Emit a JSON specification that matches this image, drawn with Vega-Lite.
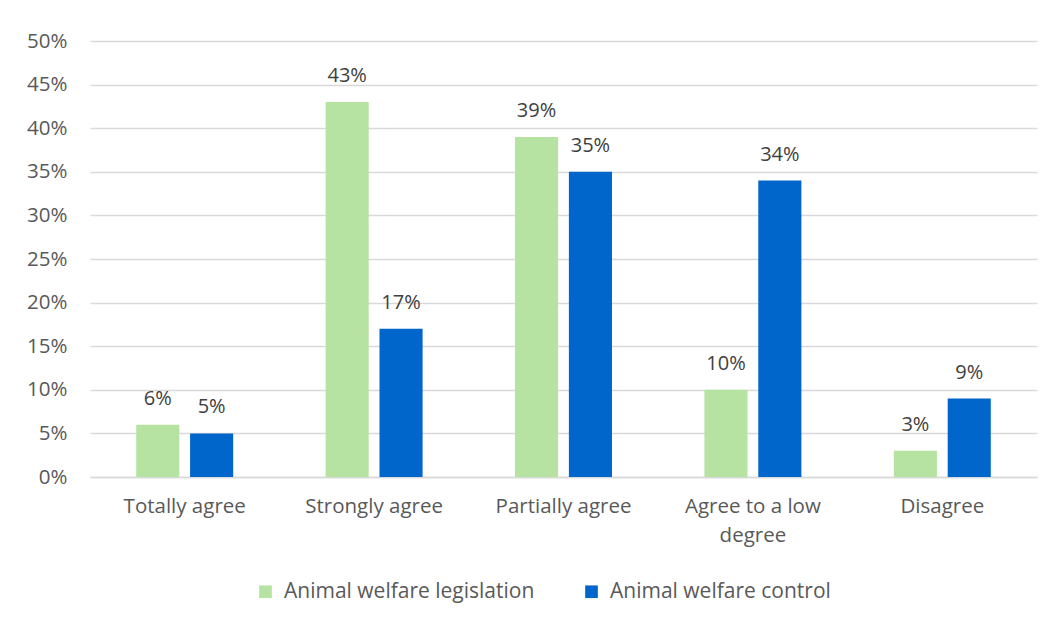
{
  "$schema": "https://vega.github.io/schema/vega-lite/v6.json",
  "width": 947,
  "height": 436,
  "autosize": {"type": "none"},
  "padding": {"left": 90, "top": 41, "right": 16, "bottom": 144},
  "background": "#ffffff",
  "config": {
    "view": {"stroke": null},
    "font": "Open Sans",
    "axis": {"labelFont": "Open Sans", "labelColor": "#595959", "labelFontSize": 20.5, "ticks": false},
    "legend": {"labelFont": "Open Sans", "labelColor": "#595959", "labelFontSize": 21}
  },
  "data": {
    "values": [
      {"category": "Totally agree", "series": "Animal welfare legislation", "value": 0.06},
      {"category": "Totally agree", "series": "Animal welfare control", "value": 0.05},
      {"category": "Strongly agree", "series": "Animal welfare legislation", "value": 0.43},
      {"category": "Strongly agree", "series": "Animal welfare control", "value": 0.17},
      {"category": "Partially agree", "series": "Animal welfare legislation", "value": 0.39},
      {"category": "Partially agree", "series": "Animal welfare control", "value": 0.35},
      {"category": "Agree to a low degree", "series": "Animal welfare legislation", "value": 0.10},
      {"category": "Agree to a low degree", "series": "Animal welfare control", "value": 0.34},
      {"category": "Disagree", "series": "Animal welfare legislation", "value": 0.03},
      {"category": "Disagree", "series": "Animal welfare control", "value": 0.09}
    ]
  },
  "encoding": {
    "x": {
      "field": "category", "type": "nominal", "sort": null, "title": null,
      "scale": {"paddingInner": 0.488, "paddingOuter": 0.244},
      "axis": {
        "labelAngle": 0, "labelPadding": 19, "domain": true, "domainColor": "#d9d9d9", "domainWidth": 1.5,
        "labelLineHeight": 29, "labelBaseline": "top",
        "labelExpr": "datum.value == 'Agree to a low degree' ? ['Agree to a low', 'degree'] : datum.value"
      }
    },
    "xOffset": {
      "field": "series", "type": "nominal",
      "sort": ["Animal welfare legislation", "Animal welfare control"],
      "scale": {"paddingInner": 0.2, "paddingOuter": 0}
    },
    "y": {
      "field": "value", "type": "quantitative", "title": null,
      "scale": {"domain": [0, 0.5], "nice": false},
      "axis": {"format": ".0%", "values": [0, 0.05, 0.1, 0.15, 0.2, 0.25, 0.3, 0.35, 0.4, 0.45, 0.5], "domain": false, "gridColor": "#d9d9d9", "gridWidth": 1.5, "labelPadding": 23}
    }
  },
  "layer": [
    {
      "mark": {"type": "bar"},
      "encoding": {
        "color": {
          "field": "series", "type": "nominal",
          "sort": ["Animal welfare legislation", "Animal welfare control"],
          "scale": {"domain": ["Animal welfare legislation", "Animal welfare control"], "range": ["#b6e3a1", "#0066cc"]},
          "legend": {
            "title": null, "orient": "none", "direction": "horizontal",
            "legendX": 165, "legendY": 540,
            "symbolType": "square", "symbolSize": 160, "symbolStrokeWidth": 0,
            "symbolOpacity": 1, "labelOffset": 8, "columnPadding": 46, "labelLimit": 400
          }
        }
      }
    },
    {
      "mark": {"type": "text", "dy": -26, "fontSize": 20, "color": "#404040", "font": "Open Sans"},
      "encoding": {
        "text": {"field": "value", "type": "quantitative", "format": ".0%"}
      }
    }
  ]
}
